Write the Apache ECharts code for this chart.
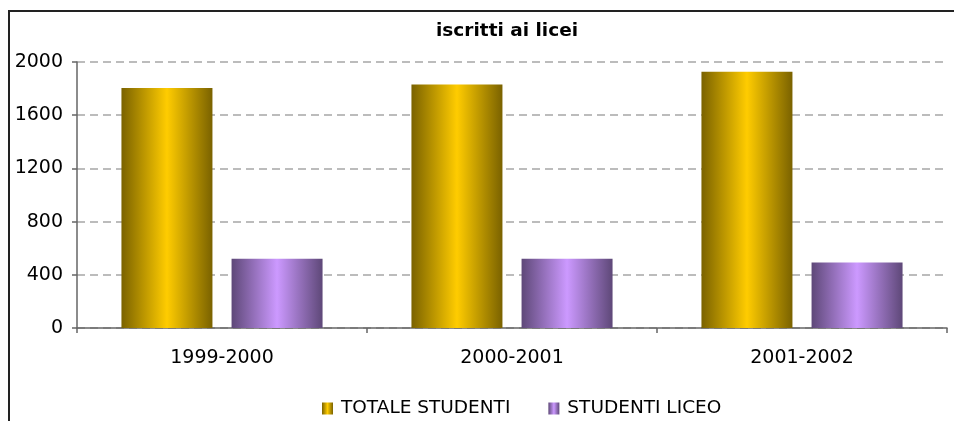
<!DOCTYPE html>
<html>
<head>
<meta charset="utf-8">
<script src="https://cdn.jsdelivr.net/npm/echarts@6/dist/echarts.min.js"></script>
<style>
  html, body { margin: 0; padding: 0; background: #fff; }
  #main { width: 954px; height: 421px; }
</style>
</head>
<body>
<div id="main"></div>
<script>
  // dati
  const anni = ['1999-2000', '2000-2001', '2001-2002'];
  const totaleStudenti = [1805, 1830, 1927];
  const studentiLiceo = [521, 521, 493];
  const yTicks = [0, 400, 800, 1200, 1600, 2000];

  const chart = echarts.init(document.getElementById('main'));

  // sfumatura orizzontale tipo "cilindro"
  const cilindro = (edge, mid) => ({
    type: 'linear', x: 0, y: 0, x2: 1, y2: 0,
    colorStops: [
      { offset: 0, color: edge },
      { offset: 0.5, color: mid },
      { offset: 1, color: edge }
    ]
  });

  const font = 'DejaVu Sans';

  const option = {
    animation: false,
    backgroundColor: '#fff',
    textStyle: { fontFamily: font },
    graphic: [{
      type: 'rect',
      shape: { x: 9, y: 11, width: 980, height: 440 },
      style: { fill: 'none', stroke: '#222', lineWidth: 2 },
      silent: true
    }],
    title: {
      text: 'iscritti ai licei',
      left: 431,
      top: 17,
      textStyle: { fontFamily: font, fontSize: 18.5, fontWeight: 'bold', color: '#000' }
    },
    legend: {
      data: ['TOTALE STUDENTI', 'STUDENTI LICEO'],
      left: 317,
      top: 394,
      icon: 'rect',
      itemWidth: 11,
      itemHeight: 12,
      itemGap: 38,
      textStyle: { fontFamily: font, fontSize: 18.5, color: '#000', padding: [0, 0, 0, 3] }
    },
    grid: { left: 77, right: 7, top: 62, bottom: 93, containLabel: false },
    xAxis: {
      type: 'category',
      data: anni,
      axisLine: { lineStyle: { color: '#666', width: 1.5 } },
      axisTick: { show: true, length: 5, lineStyle: { color: '#666', width: 1.5 } },
      axisLabel: { fontFamily: font, fontSize: 19, color: '#000', margin: 21 }
    },
    yAxis: {
      type: 'value',
      min: yTicks[0],
      max: yTicks[yTicks.length - 1],
      interval: 400,
      axisLine: { show: true, lineStyle: { color: '#666', width: 1.5 } },
      axisTick: { show: true, length: 5, lineStyle: { color: '#666', width: 1.5 } },
      axisLabel: {
        fontFamily: font, fontSize: 19, color: '#000', margin: 14,
        formatter: (v) => String(v)
      },
      splitLine: { lineStyle: { color: '#a6a6a6', type: [8, 5], width: 1.5 } }
    },
    series: [
      {
        name: 'TOTALE STUDENTI',
        type: 'bar',
        data: totaleStudenti,
        barWidth: 91,
        barGap: '21%',
        itemStyle: { color: cilindro('#7a6200', '#ffcc00') }
      },
      {
        name: 'STUDENTI LICEO',
        type: 'bar',
        data: studentiLiceo,
        barWidth: 91,
        itemStyle: { color: cilindro('#5e4878', '#cc99ff') }
      }
    ]
  };

  chart.setOption(option);
</script>
</body>
</html>
